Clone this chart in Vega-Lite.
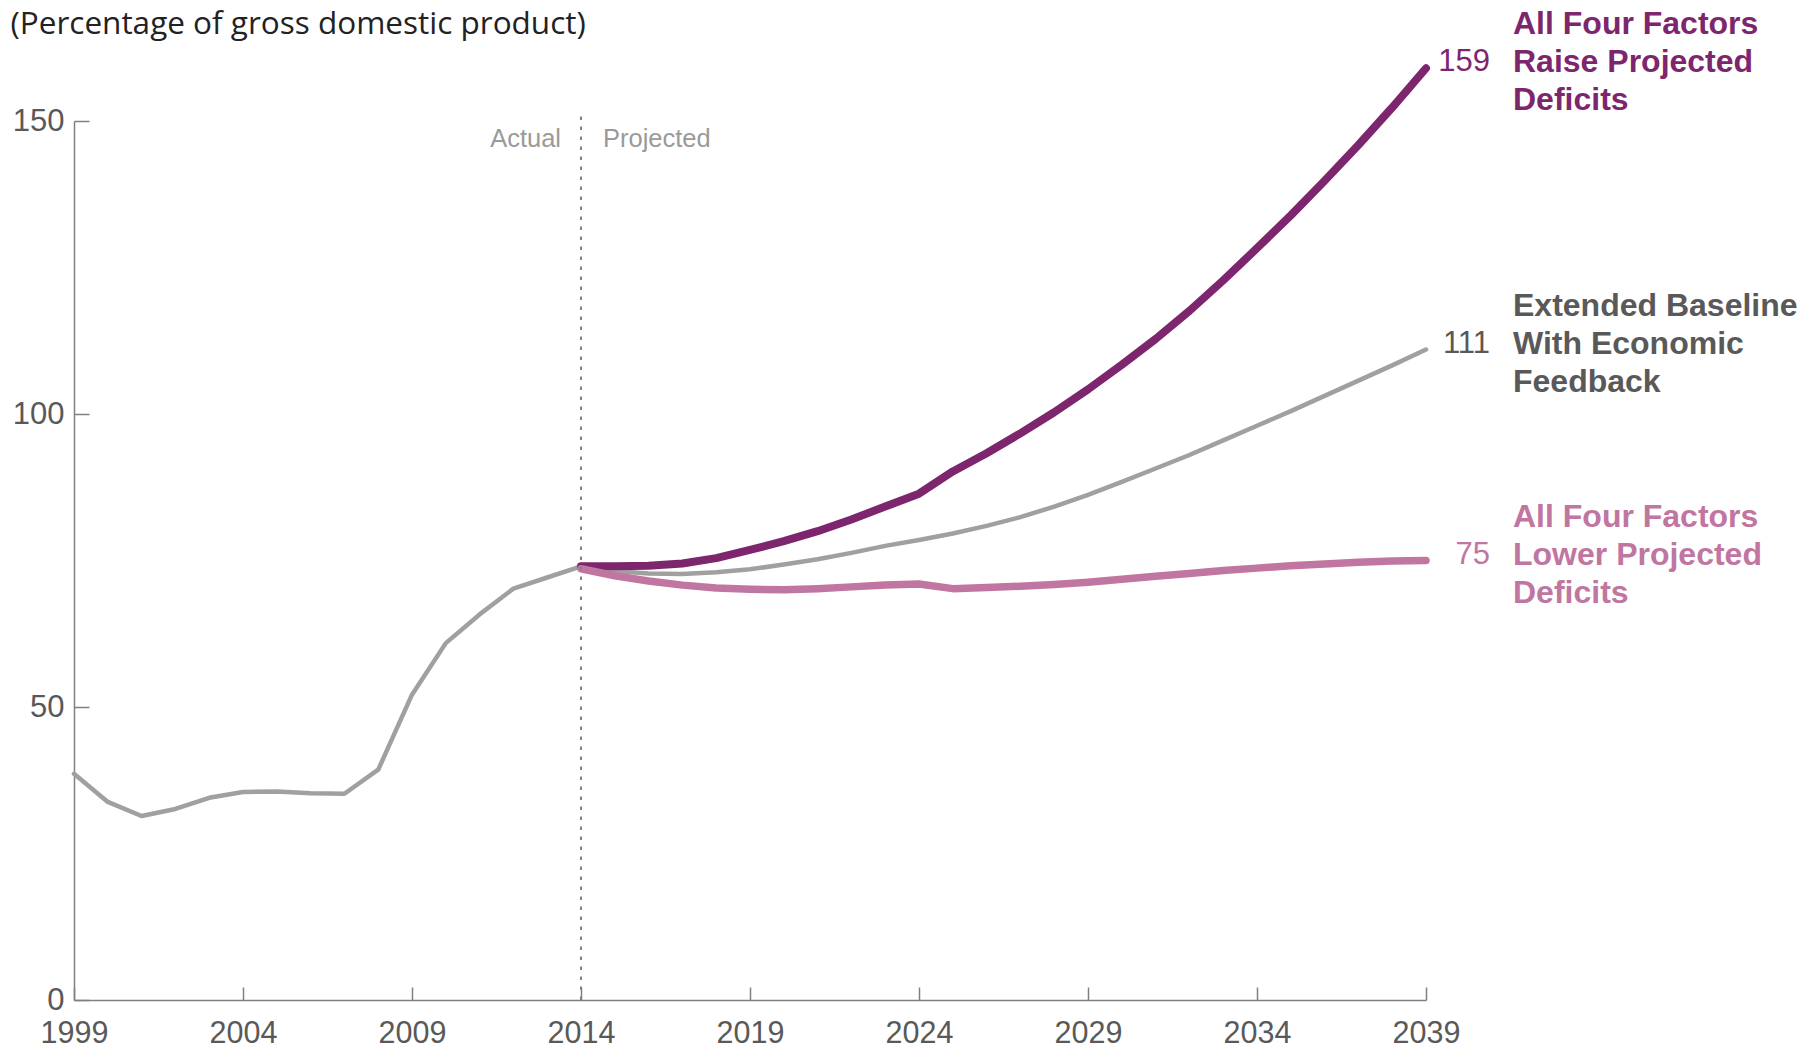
{
  "$schema": "https://vega.github.io/schema/vega-lite/v6.json",
  "width": 1352,
  "height": 879,
  "autosize": {"type": "none"},
  "padding": {"left": 74, "top": 121, "right": 390, "bottom": 47},
  "background": "white",
  "config": {"view": {"stroke": null}, "font": "Liberation Sans"},
  "datasets": {
    "lines": [
      {"series": "Actual", "year": 1999, "value": 38.6},
      {"series": "Actual", "year": 2000, "value": 33.8},
      {"series": "Actual", "year": 2001, "value": 31.4},
      {"series": "Actual", "year": 2002, "value": 32.6},
      {"series": "Actual", "year": 2003, "value": 34.5},
      {"series": "Actual", "year": 2004, "value": 35.5},
      {"series": "Actual", "year": 2005, "value": 35.6},
      {"series": "Actual", "year": 2006, "value": 35.3},
      {"series": "Actual", "year": 2007, "value": 35.2},
      {"series": "Actual", "year": 2008, "value": 39.3},
      {"series": "Actual", "year": 2009, "value": 52.1},
      {"series": "Actual", "year": 2010, "value": 60.9},
      {"series": "Actual", "year": 2011, "value": 65.8},
      {"series": "Actual", "year": 2012, "value": 70.2},
      {"series": "Actual", "year": 2013, "value": 72.1},
      {"series": "Actual", "year": 2014, "value": 74.0},
      {"series": "Baseline", "year": 2014, "value": 74.0},
      {"series": "Baseline", "year": 2015, "value": 73.2},
      {"series": "Baseline", "year": 2016, "value": 72.8},
      {"series": "Baseline", "year": 2017, "value": 72.7},
      {"series": "Baseline", "year": 2018, "value": 73.0},
      {"series": "Baseline", "year": 2019, "value": 73.5},
      {"series": "Baseline", "year": 2020, "value": 74.3},
      {"series": "Baseline", "year": 2021, "value": 75.2},
      {"series": "Baseline", "year": 2022, "value": 76.3},
      {"series": "Baseline", "year": 2023, "value": 77.5},
      {"series": "Baseline", "year": 2024, "value": 78.5},
      {"series": "Baseline", "year": 2025, "value": 79.6},
      {"series": "Baseline", "year": 2026, "value": 80.9},
      {"series": "Baseline", "year": 2027, "value": 82.4},
      {"series": "Baseline", "year": 2028, "value": 84.2},
      {"series": "Baseline", "year": 2029, "value": 86.2},
      {"series": "Baseline", "year": 2030, "value": 88.4},
      {"series": "Baseline", "year": 2031, "value": 90.7},
      {"series": "Baseline", "year": 2032, "value": 93.0},
      {"series": "Baseline", "year": 2033, "value": 95.5},
      {"series": "Baseline", "year": 2034, "value": 98.0},
      {"series": "Baseline", "year": 2035, "value": 100.5},
      {"series": "Baseline", "year": 2036, "value": 103.1},
      {"series": "Baseline", "year": 2037, "value": 105.7},
      {"series": "Baseline", "year": 2038, "value": 108.3},
      {"series": "Baseline", "year": 2039, "value": 111.0},
      {"series": "High", "year": 2014, "value": 74.0},
      {"series": "High", "year": 2015, "value": 74.0},
      {"series": "High", "year": 2016, "value": 74.1},
      {"series": "High", "year": 2017, "value": 74.5},
      {"series": "High", "year": 2018, "value": 75.4},
      {"series": "High", "year": 2019, "value": 76.8},
      {"series": "High", "year": 2020, "value": 78.3},
      {"series": "High", "year": 2021, "value": 80.0},
      {"series": "High", "year": 2022, "value": 82.0},
      {"series": "High", "year": 2023, "value": 84.2},
      {"series": "High", "year": 2024, "value": 86.4},
      {"series": "High", "year": 2025, "value": 90.2},
      {"series": "High", "year": 2026, "value": 93.3},
      {"series": "High", "year": 2027, "value": 96.7},
      {"series": "High", "year": 2028, "value": 100.3},
      {"series": "High", "year": 2029, "value": 104.2},
      {"series": "High", "year": 2030, "value": 108.4},
      {"series": "High", "year": 2031, "value": 112.8},
      {"series": "High", "year": 2032, "value": 117.6},
      {"series": "High", "year": 2033, "value": 122.8},
      {"series": "High", "year": 2034, "value": 128.3},
      {"series": "High", "year": 2035, "value": 133.9},
      {"series": "High", "year": 2036, "value": 139.8},
      {"series": "High", "year": 2037, "value": 145.9},
      {"series": "High", "year": 2038, "value": 152.3},
      {"series": "High", "year": 2039, "value": 159.0},
      {"series": "Low", "year": 2014, "value": 73.6},
      {"series": "Low", "year": 2015, "value": 72.4},
      {"series": "Low", "year": 2016, "value": 71.5},
      {"series": "Low", "year": 2017, "value": 70.8},
      {"series": "Low", "year": 2018, "value": 70.3},
      {"series": "Low", "year": 2019, "value": 70.1},
      {"series": "Low", "year": 2020, "value": 70.0},
      {"series": "Low", "year": 2021, "value": 70.2},
      {"series": "Low", "year": 2022, "value": 70.5},
      {"series": "Low", "year": 2023, "value": 70.8},
      {"series": "Low", "year": 2024, "value": 71.0},
      {"series": "Low", "year": 2025, "value": 70.2},
      {"series": "Low", "year": 2026, "value": 70.4},
      {"series": "Low", "year": 2027, "value": 70.6},
      {"series": "Low", "year": 2028, "value": 70.9},
      {"series": "Low", "year": 2029, "value": 71.3},
      {"series": "Low", "year": 2030, "value": 71.8},
      {"series": "Low", "year": 2031, "value": 72.3},
      {"series": "Low", "year": 2032, "value": 72.8},
      {"series": "Low", "year": 2033, "value": 73.3},
      {"series": "Low", "year": 2034, "value": 73.7},
      {"series": "Low", "year": 2035, "value": 74.1},
      {"series": "Low", "year": 2036, "value": 74.4},
      {"series": "Low", "year": 2037, "value": 74.7},
      {"series": "Low", "year": 2038, "value": 74.9},
      {"series": "Low", "year": 2039, "value": 75.0}
    ],
    "labels": [
      {"series": "High", "year": 2039, "value": 159, "num": "159", "desc": "All Four Factors\nRaise Projected\nDeficits"},
      {"series": "Baseline", "year": 2039, "value": 111, "num": "111", "desc": "Extended Baseline\nWith Economic\nFeedback"},
      {"series": "Low", "year": 2039, "value": 75, "num": "75", "desc": "All Four Factors\nLower Projected\nDeficits"}
    ]
  },
  "layer": [
    {
      "data": {"name": "lines"},
      "encoding": {
        "x": {
          "field": "year",
          "type": "quantitative",
          "scale": {"domain": [1999, 2039], "nice": false, "zero": false},
          "axis": {
            "values": [1999, 2004, 2009, 2014, 2019, 2024, 2029, 2034, 2039],
            "format": "d",
            "title": null,
            "grid": false,
            "domainColor": "#808080",
            "domainWidth": 1.5,
            "tickColor": "#808080",
            "tickWidth": 1.5,
            "tickSize": -13,
            "labelPadding": 55,
            "labelBaseline": "alphabetic",
            "labelFont": "Liberation Sans",
            "labelFontSize": 30.5,
            "labelColor": "#595959",
            "labelFlush": false,
            "labelOverlap": false
          }
        },
        "y": {
          "field": "value",
          "type": "quantitative",
          "scale": {"domain": [0, 150], "nice": false},
          "axis": {
            "values": [0, 50, 100, 150],
            "title": "(Percentage of gross domestic product)",
            "titleAngle": 0,
            "titleAlign": "left",
            "titleBaseline": "alphabetic",
            "titleX": -64,
            "titleY": -88,
            "titleFont": "Open Sans",
            "titleFontSize": 31.5,
            "titleFontWeight": "normal",
            "titleColor": "#222222",
            "grid": false,
            "domainColor": "#808080",
            "domainWidth": 1.5,
            "tickColor": "#808080",
            "tickWidth": 1.5,
            "tickSize": -15,
            "labelPadding": 25,
            "labelFont": "Liberation Sans",
            "labelFontSize": 31,
            "labelColor": "#595959",
            "labelFlush": false,
            "labelOverlap": false
          }
        }
      },
      "layer": [
        {
          "transform": [{"filter": "datum.series === 'Actual'"}],
          "mark": {"type": "line", "color": "#A0A0A0", "strokeWidth": 4.5, "strokeCap": "round", "strokeJoin": "round"}
        },
        {
          "transform": [{"filter": "datum.series === 'Baseline'"}],
          "mark": {"type": "line", "color": "#A0A0A0", "strokeWidth": 4.5, "strokeCap": "round", "strokeJoin": "round"}
        },
        {
          "transform": [{"filter": "datum.series === 'High'"}],
          "mark": {"type": "line", "color": "#7D266E", "strokeWidth": 8, "strokeCap": "round", "strokeJoin": "round"}
        },
        {
          "transform": [{"filter": "datum.series === 'Low'"}],
          "mark": {"type": "line", "color": "#C076A0", "strokeWidth": 7.5, "strokeCap": "round", "strokeJoin": "round"}
        }
      ]
    },
    {
      "data": {"values": [{"year": 2014}]},
      "mark": {"type": "rule", "color": "#808080", "strokeWidth": 2, "strokeDash": [3.5, 6.5]},
      "encoding": {"x": {"field": "year", "type": "quantitative"}, "y": {"datum": 0}, "y2": {"datum": 151.2}}
    },
    {
      "data": {"values": [{"label": "Actual"}]},
      "mark": {"type": "text", "align": "right", "baseline": "middle", "dx": -20, "fontSize": 25.5, "color": "#9a9a9a"},
      "encoding": {"x": {"datum": 2014}, "y": {"datum": 147}, "text": {"field": "label"}}
    },
    {
      "data": {"values": [{"label": "Projected"}]},
      "mark": {"type": "text", "align": "left", "baseline": "middle", "dx": 22, "fontSize": 25.5, "color": "#9a9a9a"},
      "encoding": {"x": {"datum": 2014}, "y": {"datum": 147}, "text": {"field": "label"}}
    },
    {
      "data": {"name": "labels"},
      "mark": {"type": "text", "align": "right", "baseline": "middle", "dx": 64, "dy": -6, "fontSize": 31},
      "encoding": {
        "x": {"field": "year", "type": "quantitative"},
        "y": {"field": "value", "type": "quantitative"},
        "text": {"field": "num"},
        "color": {"field": "series", "type": "nominal", "scale": {"domain": ["High", "Baseline", "Low"], "range": ["#7D266E", "#595959", "#C076A0"]}, "legend": null}
      }
    },
    {
      "data": {"name": "labels"},
      "mark": {"type": "text", "align": "left", "baseline": "middle", "dx": 87, "dy": -44, "fontSize": 32, "fontWeight": "bold", "lineBreak": "\n", "lineHeight": 38},
      "encoding": {
        "x": {"field": "year", "type": "quantitative"},
        "y": {"field": "value", "type": "quantitative"},
        "text": {"field": "desc"},
        "color": {"field": "series", "type": "nominal", "scale": {"domain": ["High", "Baseline", "Low"], "range": ["#7D266E", "#595959", "#C076A0"]}, "legend": null}
      }
    }
  ]
}
